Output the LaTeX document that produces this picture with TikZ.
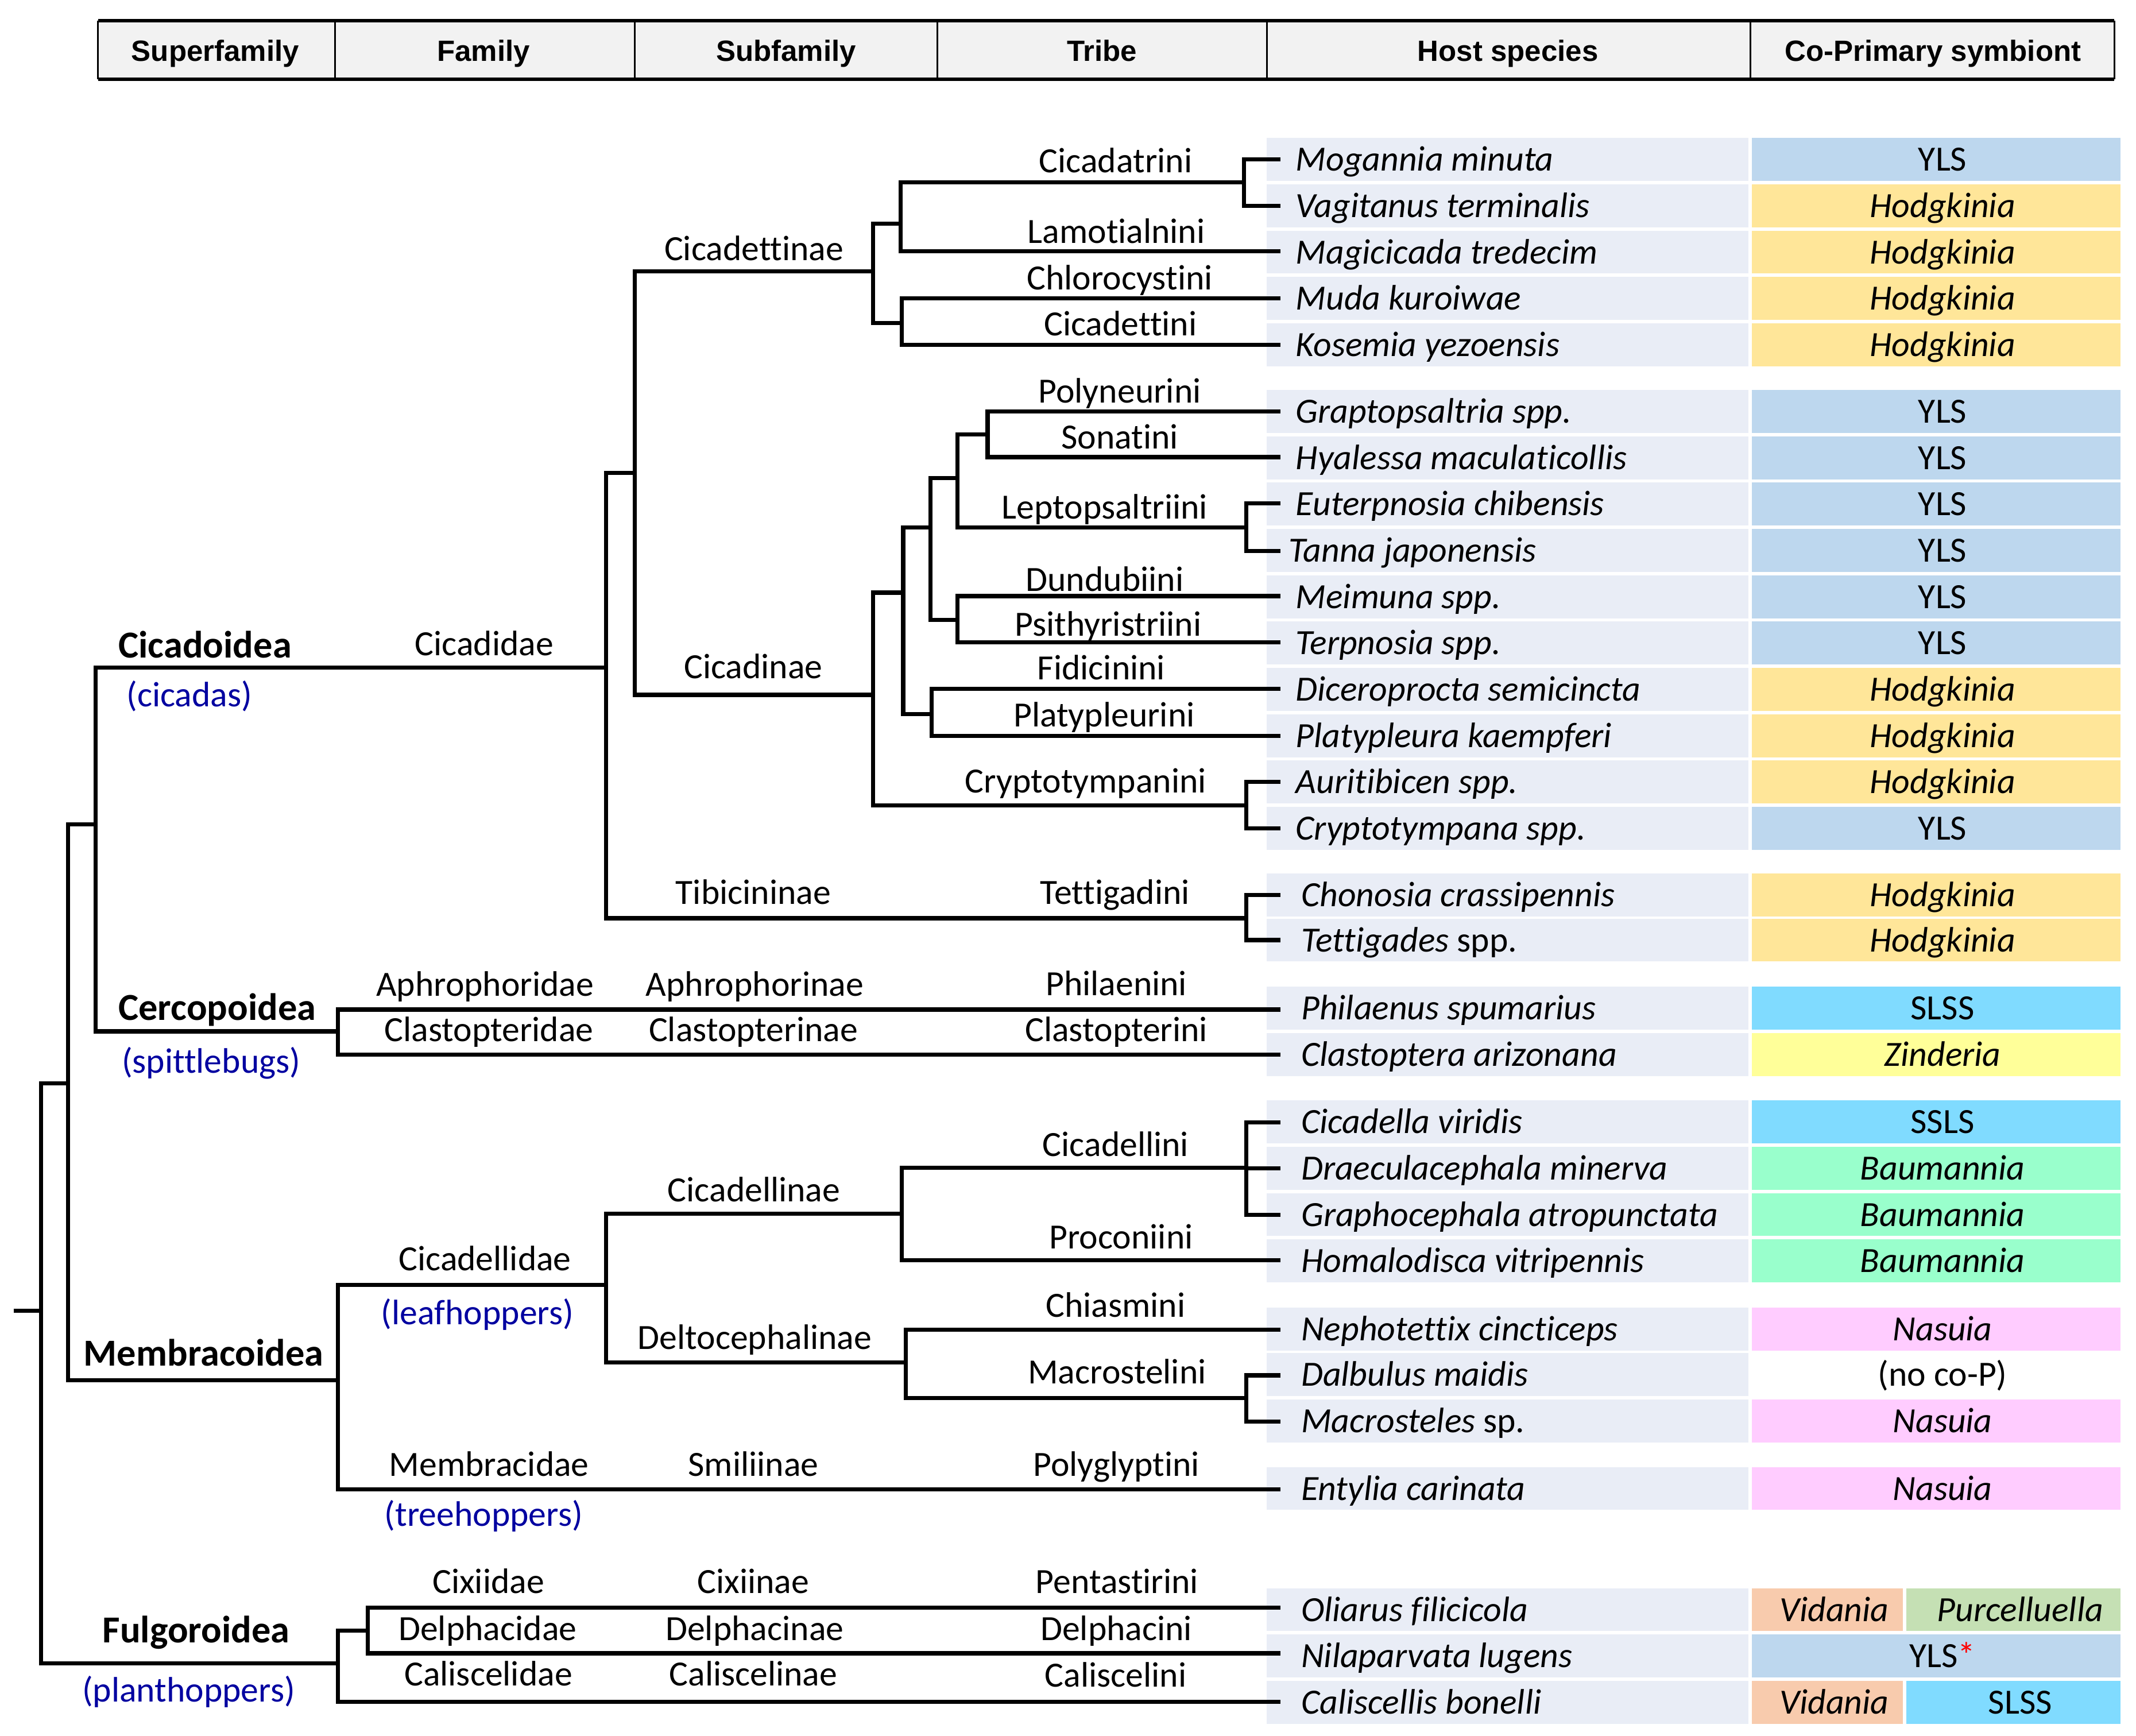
\documentclass[tikz,border=0pt]{standalone}
\usepackage{fontspec}
\setmainfont{Carlito}[Ligatures={NoCommon}]
\newfontfamily\hdrfont{Liberation Sans}
\definecolor{hostbg}{RGB}{233,237,246}
\definecolor{yls}{RGB}{189,215,238}
\definecolor{hodg}{RGB}{255,230,153}
\definecolor{slss}{RGB}{128,219,255}
\definecolor{zind}{RGB}{255,255,153}
\definecolor{baum}{RGB}{153,255,204}
\definecolor{nasu}{RGB}{255,204,255}
\definecolor{vida}{RGB}{248,203,173}
\definecolor{purc}{RGB}{197,224,180}
\definecolor{hdrbg}{RGB}{242,242,242}
\definecolor{cname}{RGB}{0,0,160}
\newcommand{\sprow}[6]{%
  \fill[hostbg] (930,#2-15.75) rectangle (1283.5,#2+15.75);
  \fill[#5] (1286,#2-15.75) rectangle (1556.5,#2+15.75);
  \node[sp] (#1) at (#3,#2+8.5) {#4};
  \node[lbl] (#1s) at (1426,#2+8.5) {#6};
}
\begin{document}
\begin{tikzpicture}[x=1pt,y=-1pt,
  br/.style={line width=3pt},
  lbl/.style={anchor=base, inner sep=0pt, font=\fontsize{26}{30}\selectfont},
  sfl/.style={anchor=base, inner sep=0pt, font=\fontsize{28}{32}\selectfont\bfseries},
  cnl/.style={lbl, text=cname},
  hdr/.style={anchor=base, inner sep=0pt, font=\hdrfont\fontsize{21.5}{24}\selectfont\bfseries},
  sp/.style={anchor=base west, inner sep=0pt, font=\fontsize{26}{30}\selectfont\itshape}]
\useasboundingbox (0,0) rectangle (1568,1273.8);

% header
\fill[hdrbg] (72,15) rectangle (1552,58);
\foreach \x in {72,246,466,688,930,1285,1552} \draw[line width=1.3pt] (\x,15) -- (\x,58);
\draw[line width=2.6pt] (72,15) -- (1552,15);
\draw[line width=2.6pt] (72,58) -- (1552,58);
\node[hdr] (h1) at (158,44.8) {Superfamily};
\node[hdr] (h2) at (355,44.8) {Family};
\node[hdr] (h3) at (577,44.8) {Subfamily};
\node[hdr] (h4) at (809,44.8) {Tribe};
\node[hdr] (h5) at (1107,44.8) {Host species};
\node[hdr] (h6) at (1419,44.8) {Co-Primary symbiont};

% rows
\sprow{r1}{117}{951}{Mogannia minuta}{yls}{YLS}
\sprow{r2}{151}{951}{Vagitanus terminalis}{hodg}{\textit{Hodgkinia}}
\sprow{r3}{185}{951}{Magicicada tredecim}{hodg}{\textit{Hodgkinia}}
\sprow{r4}{219}{951}{Muda kuroiwae}{hodg}{\textit{Hodgkinia}}
\sprow{r5}{253}{951}{Kosemia yezoensis}{hodg}{\textit{Hodgkinia}}
\sprow{r6}{302}{951}{Graptopsaltria spp.}{yls}{YLS}
\sprow{r7}{336}{951}{Hyalessa maculaticollis}{yls}{YLS}
\sprow{r8}{370}{951}{Euterpnosia chibensis}{yls}{YLS}
\sprow{r9}{404}{946}{Tanna japonensis}{yls}{YLS}
\sprow{r10}{438}{951}{Meimuna spp.}{yls}{YLS}
\sprow{r11}{472}{951}{Terpnosia spp.}{yls}{YLS}
\sprow{r12}{506}{951}{Diceroprocta semicincta}{hodg}{\textit{Hodgkinia}}
\sprow{r13}{540}{951}{Platypleura kaempferi}{hodg}{\textit{Hodgkinia}}
\sprow{r14}{574}{951}{Auritibicen spp.}{hodg}{\textit{Hodgkinia}}
\sprow{r15}{608}{951}{Cryptotympana spp.}{yls}{YLS}
\sprow{r16}{657}{955}{Chonosia crassipennis}{hodg}{\textit{Hodgkinia}}
\sprow{r17}{690}{955}{Tettigades \textup{spp.}}{hodg}{\textit{Hodgkinia}}
\sprow{r18}{740}{955}{Philaenus spumarius}{slss}{SLSS}
\sprow{r19}{774}{955}{Clastoptera arizonana}{zind}{\textit{Zinderia}}
\sprow{r20}{823.5}{955}{Cicadella viridis}{slss}{SSLS}
\sprow{r21}{857.5}{955}{Draeculacephala minerva}{baum}{\textit{Baumannia}}
\sprow{r22}{891.5}{955}{Graphocephala atropunctata}{baum}{\textit{Baumannia}}
\sprow{r23}{925.5}{955}{Homalodisca vitripennis}{baum}{\textit{Baumannia}}
\sprow{r24}{975.5}{955}{Nephotettix cincticeps}{nasu}{\textit{Nasuia}}
\sprow{r25}{1009}{955}{Dalbulus maidis}{white}{(no co-P)}
\sprow{r26}{1043}{955}{Macrosteles \textup{sp.}}{nasu}{\textit{Nasuia}}
\sprow{r27}{1092.5}{955}{Entylia carinata}{nasu}{\textit{Nasuia}}
% split rows
\fill[hostbg] (930,1181.5-15.75) rectangle (1283.5,1181.5+15.75);
\fill[vida] (1286,1181.5-15.75) rectangle (1397,1181.5+15.75);
\fill[purc] (1399.5,1181.5-15.75) rectangle (1556.5,1181.5+15.75);
\node[sp] (r28) at (955,1190) {Oliarus filicicola};
\node[lbl] (r28a) at (1346.5,1190) {\textit{Vidania}};
\node[lbl] (r28b) at (1483,1190) {\textit{Purcelluella}};
\sprow{r29}{1215.5}{955}{Nilaparvata lugens}{yls}{YLS\textcolor{red}{*}}
\fill[hostbg] (930,1249.5-15.75) rectangle (1283.5,1249.5+15.75);
\fill[vida] (1286,1249.5-15.75) rectangle (1397,1249.5+15.75);
\fill[slss] (1399.5,1249.5-15.75) rectangle (1556.5,1249.5+15.75);
\node[sp] (r30) at (955,1258) {Caliscellis bonelli};
\node[lbl] (r30a) at (1346.5,1258) {\textit{Vidania}};
\node[lbl] (r30b) at (1483,1258) {SLSS};

% tree coordinates
\coordinate (R0) at (10,962);
\coordinate (R) at (30,962);
\coordinate (A) at (50,795);
\coordinate (B) at (70,605);
\coordinate (CD) at (445,490);
\coordinate (CE) at (248,757);
\coordinate (ME) at (248,1013);
\coordinate (FU) at (248,1221);
\coordinate (CDa) at (466,347);
\coordinate (TIB) at (915,674);
\coordinate (CTT) at (641,199);
\coordinate (CIN) at (641,510);
\coordinate (CTTa) at (661,164);
\coordinate (CTTb) at (662,237);
\coordinate (CTR) at (913,134);
\coordinate (CINa) at (663,435);
\coordinate (CRY) at (915,591);
\coordinate (CINb) at (683,387);
\coordinate (CINc) at (684,524);
\coordinate (CINd) at (703,351);
\coordinate (CINe) at (703,455);
\coordinate (CINf) at (725,319);
\coordinate (LEP) at (915,387);
\coordinate (CDL) at (445,943);
\coordinate (CLN) at (662,891);
\coordinate (DLT) at (665,1000);
\coordinate (CLL) at (915,857);
\coordinate (MAC) at (915,1026);
\coordinate (FUa) at (270,1197);
\coordinate (L1) at (940,117);
\coordinate (L2) at (940,151);
\coordinate (L3) at (940,184.5);
\coordinate (L4) at (940,219);
\coordinate (L5) at (940,253);
\coordinate (L6) at (940,302);
\coordinate (L7) at (940,335.5);
\coordinate (L8) at (940,369.5);
\coordinate (L9) at (940,404.5);
\coordinate (L10) at (940,437.5);
\coordinate (L11) at (940,471.5);
\coordinate (L12) at (940,505.5);
\coordinate (L13) at (940,540);
\coordinate (L14) at (940,574);
\coordinate (L15) at (940,608);
\coordinate (L16) at (940,657);
\coordinate (L17) at (940,690);
\coordinate (L18) at (940,741);
\coordinate (L19) at (940,774);
\coordinate (L20) at (940,824);
\coordinate (L21) at (940,857.5);
\coordinate (L22) at (940,891.5);
\coordinate (L23) at (940,925);
\coordinate (L24) at (940,976);
\coordinate (L25) at (940,1009.5);
\coordinate (L26) at (940,1043.5);
\coordinate (L27) at (940,1093);
\coordinate (L28) at (940,1180);
\coordinate (L29) at (940,1213.5);
\coordinate (L30) at (940,1249);

% branches
\draw[br] (R0) -- (R);
\draw[br] (R) |- (A);
\draw[br] (R) |- (FU);
\draw[br] (A) |- (B);
\draw[br] (A) |- (ME);
\draw[br] (B) |- (CD);
\draw[br] (B) |- (CE);
\draw[br] (CD) |- (CDa);
\draw[br] (CD) |- (TIB);
\draw[br] (CDa) |- (CTT);
\draw[br] (CDa) |- (CIN);
\draw[br] (CTT) |- (CTTa);
\draw[br] (CTT) |- (CTTb);
\draw[br] (CTTa) |- (CTR);
\draw[br] (CTTa) |- (L3);
\draw[br] (CTR) |- (L1);
\draw[br] (CTR) |- (L2);
\draw[br] (CTTb) |- (L4);
\draw[br] (CTTb) |- (L5);
\draw[br] (CIN) |- (CINa);
\draw[br] (CIN) |- (CRY);
\draw[br] (CINa) |- (CINb);
\draw[br] (CINa) |- (CINc);
\draw[br] (CINb) |- (CINd);
\draw[br] (CINb) |- (CINe);
\draw[br] (CINd) |- (CINf);
\draw[br] (CINd) |- (LEP);
\draw[br] (CINf) |- (L6);
\draw[br] (CINf) |- (L7);
\draw[br] (LEP) |- (L8);
\draw[br] (LEP) |- (L9);
\draw[br] (CINe) |- (L10);
\draw[br] (CINe) |- (L11);
\draw[br] (CINc) |- (L12);
\draw[br] (CINc) |- (L13);
\draw[br] (CRY) |- (L14);
\draw[br] (CRY) |- (L15);
\draw[br] (TIB) |- (L16);
\draw[br] (TIB) |- (L17);
\draw[br] (CE) |- (L18);
\draw[br] (CE) |- (L19);
\draw[br] (ME) |- (CDL);
\draw[br] (ME) |- (L27);
\draw[br] (CDL) |- (CLN);
\draw[br] (CDL) |- (DLT);
\draw[br] (CLN) |- (CLL);
\draw[br] (CLN) |- (L23);
\draw[br] (CLL) |- (L20);
\draw[br] (CLL) |- (L21);
\draw[br] (CLL) |- (L22);
\draw[br] (DLT) |- (L24);
\draw[br] (DLT) |- (MAC);
\draw[br] (MAC) |- (L25);
\draw[br] (MAC) |- (L26);
\draw[br] (FU) |- (FUa);
\draw[br] (FU) |- (L30);
\draw[br] (FUa) |- (L28);
\draw[br] (FUa) |- (L29);

% superfamily labels
\node[sfl] (sf1) at (150.5,483) {Cicadoidea};
\node[cnl] (cn1) at (139,518.5) {(cicadas)};
\node[sfl] (sf2) at (159.5,749) {Cercopoidea};
\node[cnl] (cn2) at (155,787.5) {(spittlebugs)};
\node[sfl] (sf3) at (149.5,1002.5) {Membracoidea};
\node[sfl] (sf4) at (144,1205.5) {Fulgoroidea};
\node[cnl] (cn4) at (138.5,1249) {(planthoppers)};

% family labels
\node[lbl] (f1) at (355.5,481) {Cicadidae};
\node[lbl] (f2) at (356,731) {Aphrophoridae};
\node[lbl] (f3) at (359,764.5) {Clastopteridae};
\node[lbl] (f4) at (356,932.5) {Cicadellidae};
\node[cnl] (cn3) at (350.5,972) {(leafhoppers)};
\node[lbl] (f5) at (359,1083.5) {Membracidae};
\node[cnl] (cn5) at (355,1120) {(treehoppers)};
\node[lbl] (f6) at (358.5,1169.5) {Cixiidae};
\node[lbl] (f7) at (358,1204) {Delphacidae};
\node[lbl] (f8) at (358.5,1237.5) {Caliscelidae};

% subfamily labels
\node[lbl] (s1) at (553.5,191) {Cicadettinae};
\node[lbl] (s2) at (553,498) {Cicadinae};
\node[lbl] (s3) at (553,663.5) {Tibicininae};
\node[lbl] (s4) at (554,731) {Aphrophorinae};
\node[lbl] (s5) at (553,764.5) {Clastopterinae};
\node[lbl] (s6) at (553.5,882) {Cicadellinae};
\node[lbl] (s7) at (554,990.5) {Deltocephalinae};
\node[lbl] (s8) at (553,1083.5) {Smiliinae};
\node[lbl] (s9) at (553,1169.5) {Cixiinae};
\node[lbl] (s10) at (554,1204) {Delphacinae};
\node[lbl] (s11) at (553,1237.5) {Caliscelinae};

% tribe labels
\node[lbl] (t1) at (819,126.5) {Cicadatrini};
\node[lbl] (t2) at (819.5,178.5) {Lamotialnini};
\node[lbl] (t3) at (822,212.5) {Chlorocystini};
\node[lbl] (t4) at (822.5,246.5) {Cicadettini};
\node[lbl] (t5) at (822,295.5) {Polyneurini};
\node[lbl] (t6) at (822,329.5) {Sonatini};
\node[lbl] (t7) at (811,381) {Leptopsaltriini};
\node[lbl] (t8) at (811,434) {Dundubiini};
\node[lbl] (t9) at (813.5,467) {Psithyristriini};
\node[lbl] (t10) at (808.5,499) {Fidicinini};
\node[lbl] (t11) at (810.5,533.5) {Platypleurini};
\node[lbl] (t12) at (797,582) {Cryptotympanini};
\node[lbl] (t13) at (818.5,663.5) {Tettigadini};
\node[lbl] (t14) at (819.5,730.5) {Philaenini};
\node[lbl] (t15) at (819.5,764.5) {Clastopterini};
\node[lbl] (t16) at (819,848.5) {Cicadellini};
\node[lbl] (t17) at (823,916.5) {Proconiini};
\node[lbl] (t18) at (819,966.5) {Chiasmini};
\node[lbl] (t19) at (820,1015.5) {Macrostelini};
\node[lbl] (t20) at (819.5,1083.5) {Polyglyptini};
\node[lbl] (t21) at (820,1169.5) {Pentastirini};
\node[lbl] (t22) at (819.5,1204) {Delphacini};
\node[lbl] (t23) at (819,1238) {Caliscelini};
\end{tikzpicture}
\end{document}
